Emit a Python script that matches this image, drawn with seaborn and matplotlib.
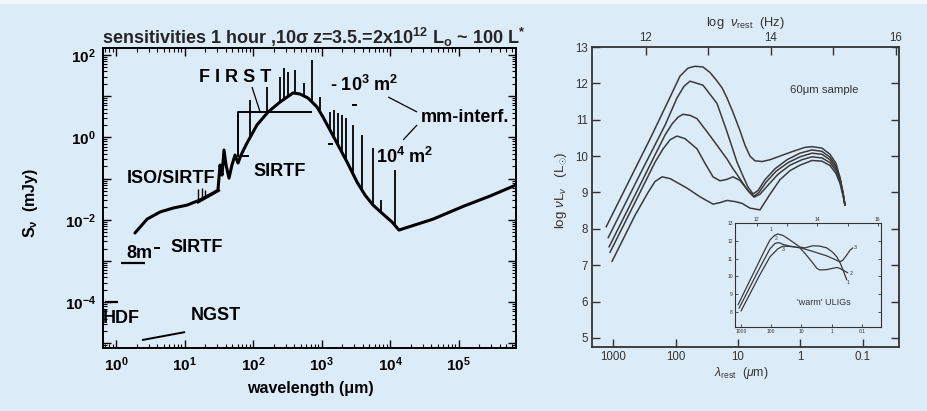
import numpy as np
import pandas as pd
import matplotlib
matplotlib.use("Agg")
import matplotlib.pyplot as plt
import matplotlib.ticker as mticker
import seaborn as sns

# ---------------- left panel: sensitivities ----------------
sed_lam = [1.89, 2.84, 4.39, 6.79, 10.9, 16.8, 26.1, 30.8, 33.0, 35.3, 37.7, 40.4,
           44.6, 49.3, 54.6, 60.4, 66.8, 81.7, 114, 166, 248, 384, 486, 635, 860,
           1050, 1330, 1680, 2360, 3300, 4310, 5650, 7900, 10700, 13500, 42400,
           1.2e5, 2.88e5, 6.9e5]
sed_flux = [4.79e-3, 1.04e-2, 1.55e-2, 1.93e-2, 2.28e-2, 3.03e-2, 4.47e-2, 5.28e-2,
            0.214, 0.122, 0.494, 0.214, 0.103, 0.214, 0.374, 0.239, 0.374, 0.731,
            2.0, 4.14, 7.23, 12.0, 11.3, 9.04, 5.47, 3.13, 1.51, 0.731, 0.253,
            0.0826, 0.04, 0.0228, 0.0138, 8.85e-3, 5.65e-3, 0.0104, 0.0216, 0.0378,
            0.070]

spike_lam = [90.4, 160, 248, 284, 324, 410, 556, 727, 951, 1330, 1520, 1740, 1990,
             2280, 2890, 3900, 5650, 7390, 11800]
spike_base = [0.97, 3.91, 7.23, 8.55, 9.6, 12.0, 10.1, 7.64, 4.62, 1.51, 1.08, 0.655,
              0.418, 0.283, 0.129, 0.056, 0.0228, 0.0146, 6.68e-3]
spike_top = [8.1, 16.7, 29.2, 48.3, 38.7, 43.2, 20.9, 75.7, 9.57, 4.14, 4.62, 3.91,
             3.5, 2.96, 2.0, 1.14, 0.553, 0.0303, 0.162]

iso_lam = [15.2, 33.0]
iso_flux = [0.0256, 0.0528]
iso_tick_lam = [15.8, 18.0, 19.9]
iso_tick_base = [0.032, 0.035, 0.037]
iso_tick_top = [0.055, 0.060, 0.052]

first_lam = [60.4, 60.4, 727]
first_flux = [0.334, 4.14, 4.14]
first_ptr_lam = [96.6, 126]
first_ptr_flux = [16.7, 4.3]

sirtf70_lam = [64.6, 87.6]
sirtf70_flux = [0.355, 0.355]
sirtf4_lam = [3.6, 4.4]
sirtf4_flux = [2.07e-3, 2.07e-3]
mm3_lam = [2790, 3300]
mm3_flux = [6.1, 6.1]
mm4_lam = [1250, 1470]
mm4_flux = [0.69, 0.69]
lead3_lam = [9390, 24800]
lead3_flux = [9.57, 4.14]
lead4_lam = [15500, 24800]
lead4_flux = [0.865, 2.0]
eightm_lam = [1.18, 2.65]
eightm_flux = [8.9e-4, 8.9e-4]
hdf_lam = [0.69, 1.07]
hdf_flux = [1.01e-4, 1.01e-4]
ngst_lam = [2.4, 10.2]
ngst_flux = [1.21e-5, 1.89e-5]

left_x_exponents = [0, 1, 2, 3, 4, 5]
left_y_exponents = [-5, -4, -3, -2, -1, 0, 1, 2]

# ---------------- right panel: 60 micron sample SEDs ----------------
c1_lam = [1290, 370, 256, 132, 84.7, 63.1, 48.8, 36.3, 28.1, 22.5, 18.0, 15.0, 12.0,
          9.29, 7.73, 6.43, 5.35, 4.13, 3.08, 2.13, 1.32, 0.847, 0.655, 0.453, 0.337,
          0.270, 0.233, 0.209, 0.194]
c1_val = [8.05, 9.92, 10.47, 11.5, 12.2, 12.42, 12.47, 12.45, 12.3, 12.1, 11.88, 11.6,
          11.2, 10.7, 10.3, 10.0, 9.87, 9.85, 9.9, 10.0, 10.13, 10.24, 10.26, 10.22,
          10.05, 9.8, 9.4, 9.0, 8.65]
c2_lam = [1200, 370, 147, 94.6, 73.1, 58.6, 36.3, 21.7, 15.0, 10.4, 8.32, 6.92, 5.75,
          4.79, 3.70, 2.56, 1.64, 1.02, 0.655, 0.453, 0.337, 0.270, 0.233, 0.209, 0.194]
c2_val = [7.75, 9.5, 10.85, 11.6, 11.92, 12.06, 11.95, 11.45, 10.67, 9.84, 9.45, 9.15,
          8.96, 9.05, 9.35, 9.65, 9.9, 10.08, 10.17, 10.13, 9.97, 9.72, 9.4, 9.0, 8.65]
c3_lam = [1160, 370, 213, 147, 114, 91.2, 75.9, 58.6, 45.3, 31.3, 21.7, 15.0, 12.0,
          10.4, 8.32, 6.67, 5.55, 4.61, 3.56, 2.47, 1.58, 1.02, 0.655, 0.453, 0.337,
          0.270, 0.233, 0.209, 0.194]
c3_val = [7.5, 9.2, 10.03, 10.58, 10.88, 11.07, 11.15, 11.12, 11.03, 10.67, 10.3, 9.92,
          9.65, 9.5, 9.25, 9.02, 8.9, 9.0, 9.28, 9.58, 9.82, 9.98, 10.08, 10.05, 9.9,
          9.66, 9.35, 8.98, 8.65]
c4_lam = [1120, 370, 213, 158, 122, 94.6, 70.5, 45.3, 33.7, 25.1, 19.4, 15.0, 12.0,
          9.29, 6.92, 5.55, 4.45, 3.31, 2.29, 1.47, 0.946, 0.655, 0.453, 0.337, 0.270,
          0.233, 0.209, 0.194]
c4_val = [7.35, 9.0, 9.83, 10.2, 10.45, 10.55, 10.48, 10.2, 9.8, 9.43, 9.32, 9.36,
          9.43, 9.33, 9.05, 8.87, 8.95, 9.2, 9.5, 9.75, 9.9, 9.98, 9.95, 9.82, 9.6,
          9.3, 8.95, 8.65]
c5_lam = [1040, 445, 275, 213, 164, 122, 65.5, 40.6, 25.1, 19.4, 15.0, 11.2, 8.63,
          6.43, 4.45, 3.08, 2.13, 1.47, 1.02, 0.655, 0.453, 0.337, 0.270, 0.233,
          0.209, 0.194]
c5_val = [7.1, 8.37, 9.0, 9.3, 9.43, 9.38, 9.12, 8.88, 8.68, 8.72, 8.78, 8.75, 8.7,
          8.57, 8.52, 8.95, 9.35, 9.6, 9.75, 9.88, 9.86, 9.74, 9.52, 9.25, 8.92, 8.65]

# inset: 'warm' ULIGs
w1_lam = [1256, 345, 161, 110, 75.5, 60.1, 41.1, 30.3, 16.5, 11.3, 7.73, 4.21, 2.47,
          1.45, 0.92, 0.68, 0.541, 0.431, 0.318]
w1_val = [8.4, 10.35, 11.5, 12.05, 12.32, 12.38, 12.3, 12.16, 11.85, 11.65, 11.6,
          11.72, 11.7, 11.6, 11.35, 11.1, 10.8, 10.4, 9.8]
w2_lam = [1164, 236, 110, 75.5, 57, 41.1, 24.2, 11.3, 7.73, 4.21, 3.10, 2.47, 1.45,
          0.92, 0.68, 0.541, 0.431, 0.294]
w2_val = [8.2, 10.5, 11.55, 11.85, 11.9, 11.8, 11.7, 11.6, 11.3, 10.75, 10.45, 10.36,
          10.38, 10.45, 10.5, 10.45, 10.35, 10.2]
w3_lam = [1000, 236, 110, 60.1, 41.1, 24.2, 11.3, 4.21, 1.45, 0.92, 0.541, 0.431,
          0.318, 0.253, 0.201]
w3_val = [8.05, 10.1, 11.1, 11.55, 11.7, 11.68, 11.62, 11.4, 11.15, 11.0, 10.82, 10.9,
          11.2, 11.45, 11.6]
w_peak_label_lam = [102, 69, 41]
w_peak_label_val = [12.5, 12.0, 11.35]
w_end_label_lam = [0.318, 0.26, 0.19]
w_end_label_val = [9.65, 10.15, 11.6]
w_labels = ["1", "2", "3"]

nu_major = [12, 14, 16]
nu_minor = [13, 15]
lam_ticks = [1000, 100, 10, 1, 0.1]
lam_ticklabels = ["1000", "100", "10", "1", "0.1"]
C_UM = 2.998e14  # speed of light in micron / s

# ---------------- style ----------------
sns.set_theme(style="ticks")
plt.rcParams["font.family"] = ["Liberation Sans", "DejaVu Sans"]
plt.rcParams["mathtext.fontset"] = "custom"
plt.rcParams["mathtext.rm"] = "Liberation Sans"
plt.rcParams["mathtext.it"] = "Liberation Sans:italic"
plt.rcParams["mathtext.bf"] = "Liberation Sans:bold"
plt.rcParams["mathtext.sf"] = "Liberation Sans"

BG = "#dcebf8"
W, H = 928, 411
fig = plt.figure(figsize=(W / 100, H / 100), dpi=100, facecolor=BG)


def fx(x):
    return x / W


def fy(y):
    return 1 - y / H


def rect(l, t, r, b):
    return [l / W, 1 - b / H, (r - l) / W, (b - t) / H]


fig.add_artist(plt.Rectangle((0, 1 - 3 / H), 1, 3 / H, transform=fig.transFigure,
                             color="#f1f7fc", zorder=0))

# ================= LEFT =================
axL = fig.add_axes(rect(103, 48, 516, 348))
axL.set_facecolor(BG)
axL.set_xscale("log")
axL.set_yscale("log")
axL.set_xlim(0.646, 6.9e5)
axL.set_ylim(10 ** -5.11, 10 ** 2.17)

sns.lineplot(x=sed_lam, y=sed_flux, ax=axL, color="black", lw=2.2, sort=False,
             estimator=None, errorbar=None)
axL.vlines(spike_lam, spike_base, spike_top, color="black", lw=1.3)
axL.vlines(iso_tick_lam, iso_tick_base, iso_tick_top, color="black", lw=1.0)
for lx, ly, lw in [(iso_lam, iso_flux, 1.6), (first_lam, first_flux, 1.4),
                   (first_ptr_lam, first_ptr_flux, 0.9), (sirtf70_lam, sirtf70_flux, 1.4),
                   (sirtf4_lam, sirtf4_flux, 1.4), (mm3_lam, mm3_flux, 1.4),
                   (mm4_lam, mm4_flux, 1.4), (lead3_lam, lead3_flux, 0.9),
                   (lead4_lam, lead4_flux, 0.9), (eightm_lam, eightm_flux, 1.6),
                   (hdf_lam, hdf_flux, 1.6), (ngst_lam, ngst_flux, 1.4)]:
    axL.plot(lx, ly, color="black", lw=lw, solid_capstyle="butt")

x_major = [10.0 ** e for e in left_x_exponents]
x_minor = [m * 10.0 ** e for e in range(-1, 6) for m in range(2, 10)
           if 0.646 <= m * 10.0 ** e <= 6.9e5]
y_major = [10.0 ** e for e in left_y_exponents]
y_minor = [m * 10.0 ** e for e in range(-6, 2) for m in range(2, 10)
           if 10 ** -5.11 <= m * 10.0 ** e <= 10 ** 2.17]
axL.xaxis.set_major_locator(mticker.FixedLocator(x_major))
axL.xaxis.set_minor_locator(mticker.FixedLocator(x_minor))
axL.yaxis.set_major_locator(mticker.FixedLocator(y_major))
axL.yaxis.set_minor_locator(mticker.FixedLocator(y_minor))
axL.xaxis.set_major_formatter(mticker.FixedFormatter(
    [r"$\mathbf{10^{%d}}$" % e for e in left_x_exponents]))
axL.yaxis.set_major_formatter(mticker.FixedFormatter(
    [(r"$\mathbf{10^{%d}}$" % e) if e % 2 == 0 else "" for e in left_y_exponents]))
axL.xaxis.set_minor_formatter(mticker.NullFormatter())
axL.yaxis.set_minor_formatter(mticker.NullFormatter())
axL.tick_params(which="both", direction="in", top=True, right=True, colors="black")
axL.tick_params(which="major", length=6, width=1.0, labelsize=11, pad=5)
axL.tick_params(which="minor", length=3, width=0.8)
for s in axL.spines.values():
    s.set_linewidth(1.4)
    s.set_color("black")
axL.set_xlabel("")
axL.set_ylabel("")

bold = dict(fontweight="bold", color="black", ha="center", va="center")
fig.text(fx(102), fy(44), r"sensitivities 1 hour ,10σ z=3.5.=2x10$^{\mathbf{12}}$ L$_{\mathbf{o}}$ ~ 100 L$^{\mathbf{*}}$",
         fontsize=13, fontweight="bold", ha="left", va="baseline")
fig.text(fx(235), fy(77), "F I R S T", fontsize=13, **bold)
fig.text(fx(364), fy(85), r"- 10$^{\mathbf{3}}$ m$^{\mathbf{2}}$", fontsize=13, **bold)
fig.text(fx(465), fy(117), "mm-interf.", fontsize=13, **bold)
fig.text(fx(405), fy(157), r"10$^{\mathbf{4}}$ m$^{\mathbf{2}}$", fontsize=13, **bold)
fig.text(fx(171), fy(178), "ISO/SIRTF", fontsize=13, **bold)
fig.text(fx(280), fy(171), "SIRTF", fontsize=13, **bold)
fig.text(fx(139), fy(253), "8m", fontsize=13, **bold)
fig.text(fx(197), fy(247), "SIRTF", fontsize=13, **bold)
fig.text(fx(121), fy(318), "HDF", fontsize=13, **bold)
fig.text(fx(216), fy(315), "NGST", fontsize=13, **bold)
fig.text(fx(30), fy(203), r"$\mathbf{S_{\nu}}$  (mJy)", fontsize=11.5, rotation=90, **bold)
fig.text(fx(310), fy(388), "wavelength (μm)", fontsize=11.5, **bold)

# ================= RIGHT =================
GR = "#333333"
axR = fig.add_axes(rect(592, 47, 899, 347))
axR.set_facecolor(BG)
axR.set_xscale("log")
axR.set_xlim(2170, 0.0265)
axR.set_ylim(4.75, 13.0)

curves = [(c1_lam, c1_val), (c2_lam, c2_val), (c3_lam, c3_val), (c4_lam, c4_val), (c5_lam, c5_val)]
df = pd.concat([pd.DataFrame({"lam": l, "val": v, "curve": i}) for i, (l, v) in enumerate(curves)],
               ignore_index=True)
sns.lineplot(data=df, x="lam", y="val", units="curve", estimator=None, sort=False,
             color="#3a3a3a", lw=1.1, ax=axR, legend=False)

axR.xaxis.set_major_locator(mticker.FixedLocator(lam_ticks))
axR.xaxis.set_major_formatter(mticker.FixedFormatter(lam_ticklabels))
axR.xaxis.set_minor_locator(mticker.NullLocator())
axR.set_yticks(range(5, 14))
axR.tick_params(which="both", direction="in", right=True, top=False, colors=GR,
                length=6, width=1.0, labelsize=8.3, pad=3)
axR.set_xlabel("")
axR.set_ylabel("")
for s in axR.spines.values():
    s.set_linewidth(1.3)
    s.set_color(GR)

topR = axR.twiny()
topR.set_xscale("log")
topR.set_xlim(axR.get_xlim())
topR.xaxis.set_major_locator(mticker.FixedLocator([C_UM / 10 ** k for k in nu_major]))
topR.xaxis.set_major_formatter(mticker.FixedFormatter([str(k) for k in nu_major]))
topR.xaxis.set_minor_locator(mticker.FixedLocator([C_UM / 10 ** k for k in nu_minor]))
topR.xaxis.set_minor_formatter(mticker.NullFormatter())
topR.tick_params(axis="x", which="both", direction="in", colors=GR, length=6, width=1.0,
                 labelsize=8.3, pad=2)
for s in topR.spines.values():
    s.set_visible(False)

fig.text(fx(745), fy(23), r"log  $\nu_{\rm rest}$  (Hz)", fontsize=9.3, color=GR, ha="center", va="center")
fig.text(fx(741), fy(373), r"$\lambda_{\rm rest}$  ($\mu$m)", fontsize=8.8, color=GR, ha="center", va="center")
fig.text(fx(561), fy(190), r"log $\nu$L$_{\nu}$   (L$_{\odot}$)", fontsize=9.6, color=GR,
         ha="center", va="center", rotation=90)
fig.text(fx(824), fy(90), "60μm sample", fontsize=8.2, color=GR, ha="center", va="center")

# ---------------- inset ----------------
axI = fig.add_axes(rect(735, 223, 881, 327))
axI.set_facecolor(BG)
axI.set_xscale("log")
axI.set_xlim(1580, 0.0234)
axI.set_ylim(7.15, 13.0)
wcurves = [(w1_lam, w1_val), (w2_lam, w2_val), (w3_lam, w3_val)]
dfi = pd.concat([pd.DataFrame({"lam": l, "val": v, "curve": i}) for i, (l, v) in enumerate(wcurves)],
                ignore_index=True)
sns.lineplot(data=dfi, x="lam", y="val", units="curve", estimator=None, sort=False,
             color="#3a3a3a", lw=0.9, ax=axI, legend=False)
for lab, lx, ly in zip(w_labels, w_peak_label_lam, w_peak_label_val):
    axI.text(lx, ly, lab, fontsize=3.8, color=GR, ha="center", va="bottom")
for lab, lx, ly in zip(w_labels, w_end_label_lam, w_end_label_val):
    axI.text(lx, ly, lab, fontsize=3.8, color=GR, ha="left", va="center")
axI.xaxis.set_major_locator(mticker.FixedLocator(lam_ticks))
axI.xaxis.set_major_formatter(mticker.FixedFormatter(lam_ticklabels))
axI.xaxis.set_minor_locator(mticker.NullLocator())
axI.set_yticks(range(8, 14))
axI.tick_params(which="both", direction="in", right=True, colors=GR, length=2.5,
                width=0.6, labelsize=3.6, pad=1.5)
axI.set_xlabel("")
axI.set_ylabel("")
for s in axI.spines.values():
    s.set_linewidth(0.8)
    s.set_color(GR)
topI = axI.twiny()
topI.set_xscale("log")
topI.set_xlim(axI.get_xlim())
topI.xaxis.set_major_locator(mticker.FixedLocator([C_UM / 10 ** k for k in nu_major]))
topI.xaxis.set_major_formatter(mticker.FixedFormatter([str(k) for k in nu_major]))
topI.xaxis.set_minor_locator(mticker.FixedLocator([C_UM / 10 ** k for k in nu_minor]))
topI.xaxis.set_minor_formatter(mticker.NullFormatter())
topI.tick_params(axis="x", which="both", direction="in", colors=GR, length=2.5, width=0.6,
                 labelsize=3.6, pad=1)
for s in topI.spines.values():
    s.set_visible(False)
fig.text(fx(824), fy(302), "'warm' ULIGs", fontsize=6.5, color=GR, ha="center", va="center")

fig.savefig("out.png", dpi=100, facecolor=BG)
